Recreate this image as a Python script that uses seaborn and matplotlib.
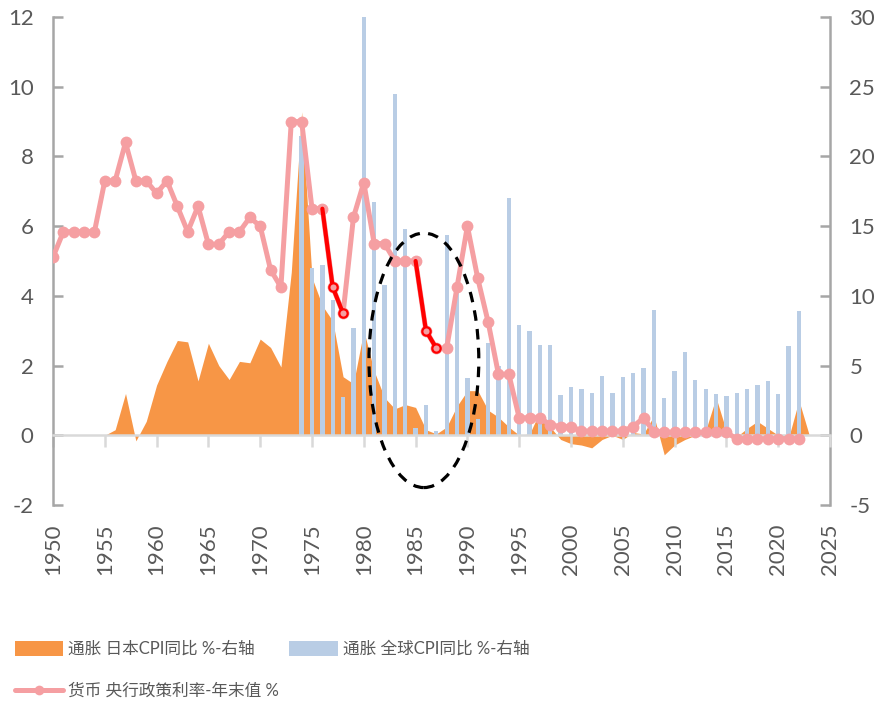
import numpy as np
import pandas as pd
import matplotlib
matplotlib.use("Agg")
import matplotlib.pyplot as plt
from matplotlib.patches import Ellipse, Patch
from matplotlib.lines import Line2D
import seaborn as sns

# ---------------- data ----------------
rate_years = list(range(1950, 2023))
policy_rate = [5.11, 5.84, 5.84, 5.84, 5.84, 7.30, 7.30, 8.40, 7.30, 7.30,
               6.94, 7.30, 6.57, 5.84, 6.57, 5.48, 5.48, 5.84, 5.84, 6.25,
               6.00, 4.75, 4.25, 9.00, 9.00, 6.50, 6.50, 4.25, 3.50, 6.25,
               7.25, 5.50, 5.50, 5.00, 5.00, 5.00, 3.00, 2.50, 2.50, 4.25,
               6.00, 4.50, 3.25, 1.75, 1.75, 0.50, 0.50, 0.50, 0.30, 0.25,
               0.25, 0.12, 0.12, 0.12, 0.12, 0.12, 0.25, 0.50, 0.10, 0.10,
               0.08, 0.08, 0.08, 0.08, 0.08, 0.08, -0.10, -0.10, -0.10, -0.10,
               -0.10, -0.10, -0.10]

jp_years = list(range(1955, 2024))
jp_cpi = [0.0, 0.4, 3.0, -0.4, 1.0, 3.6, 5.3, 6.8, 6.7, 3.9,
          6.6, 5.0, 4.0, 5.3, 5.2, 6.9, 6.3, 4.9, 11.7, 23.2,
          11.3, 9.3, 8.2, 4.2, 3.7, 7.5, 4.6, 2.7, 1.9, 2.2,
          2.0, 0.4, 0.1, 0.6, 2.1, 3.2, 3.2, 1.8, 1.3, 0.6,
          0.0, 0.1, 1.7, 0.6, -0.3, -0.6, -0.7, -0.9, -0.3, 0.0,
          -0.3, 0.2, 0.1, 1.4, -1.4, -0.7, -0.3, 0.0, 0.35, 2.7,
          0.3, -0.1, 0.5, 1.0, 0.5, 0.0, -0.2, 2.5, 0.0]

world_years = list(range(1974, 2023))
world_cpi = [21.5, 12.0, 12.2, 9.7, 2.75, 7.7, 30.0, 16.7, 10.8, 24.5,
             14.8, 0.5, 2.2, 0.3, 14.4, 10.7, 4.1, 1.2, 6.6, 5.0,
             17.0, 7.9, 7.5, 6.5, 6.5, 2.9, 3.45, 3.35, 3.05, 4.25,
             3.05, 4.2, 4.45, 4.85, 8.95, 2.7, 4.6, 5.95, 4.0, 3.3,
             2.95, 2.85, 3.05, 3.35, 3.6, 3.9, 2.95, 6.4, 8.9]

highlight_spans = [(1976, 1978), (1985, 1987)]

label_jp = "通胀 日本CPI同比 %-右轴"
label_world = "通胀 全球CPI同比 %-右轴"
label_rate = "货币 央行政策利率-年末值 %"

x_ticks = list(range(1950, 2026, 5))
left_ticks = list(range(-2, 13, 2))
right_ticks = list(range(-5, 31, 5))

# ---------------- style ----------------
sns.set_theme(style="white")
plt.rcParams["font.family"] = ["Lato", "Noto Sans CJK SC", "DejaVu Sans"]
plt.rcParams["axes.unicode_minus"] = False

ORANGE = "#F79646"
BLUE = "#B9CDE5"
PINK = "#F59FA2"
RED = "#FF0000"
GRAY_AX = "#A6A6A6"
GRAY_ZERO = "#D9D9D9"
TXT = "#595959"

rate = pd.Series(policy_rate, index=rate_years)

fig = plt.figure(figsize=(8.86, 7.09), dpi=100)
ax = fig.add_axes([53 / 886, 1 - 505 / 709, (830 - 53) / 886, (505 - 17) / 709])
ax2 = ax.twinx()

# right-axis series
ax2.fill_between(jp_years, 0, jp_cpi, color=ORANGE, linewidth=0, zorder=1)
ax2.bar(world_years, world_cpi, width=0.42, color=BLUE, linewidth=0, zorder=2)

# left-axis series
sns.lineplot(x=rate.index, y=rate.values, ax=ax, color=PINK, linewidth=3.6,
             marker="o", markersize=8.5, markeredgewidth=0, zorder=3,
             legend=False)
for a, b in highlight_spans:
    seg = rate.loc[a:b]
    sns.lineplot(x=seg.index, y=seg.values, ax=ax, color=RED, linewidth=3.0,
                 marker="o", markevery=list(range(1, len(seg))), markersize=6,
                 markerfacecolor=PINK, markeredgecolor=RED,
                 markeredgewidth=1.6, zorder=4, legend=False)

# dashed ellipse annotation
ell = Ellipse((1985.8, 2.15), 10.6, 7.3, fill=False, edgecolor="black",
              linewidth=2.3, linestyle=(0, (3.3, 2.6)), zorder=6)
ax.add_patch(ell)

# layering: left axis on top
ax.set_zorder(ax2.get_zorder() + 1)
ax.patch.set_visible(False)

# limits
ax.set_xlim(1950, 2025)
ax.set_ylim(-2, 12)
ax2.set_ylim(-5, 30)
ax.set_xlabel("")
ax.set_ylabel("")
ax2.set_ylabel("")

# x axis line at zero with ticks, labels at bottom
ax.set_xticks(x_ticks)
ax.spines["bottom"].set_position(("data", 0))
ax.spines["bottom"].set_color(GRAY_ZERO)
ax.spines["bottom"].set_linewidth(1.8)
ax.tick_params(axis="x", direction="out", length=8.5, width=1.8,
               color=GRAY_ZERO, labelbottom=False, bottom=True)
sec = ax.secondary_xaxis("bottom")
sec.set_xticks(x_ticks)
sec.set_xticklabels([str(t) for t in x_ticks])
sec.tick_params(axis="x", length=0, pad=13, labelrotation=90,
                labelsize=16, labelcolor=TXT)
sec.spines["bottom"].set_visible(False)

# left axis
ax.set_yticks(left_ticks)
ax.set_yticklabels([str(t) for t in left_ticks])
ax.spines["left"].set_color(GRAY_AX)
ax.spines["left"].set_linewidth(1.8)
ax.tick_params(axis="y", direction="in", length=7.5, width=1.8,
               color=GRAY_AX, pad=14, labelsize=16, labelcolor=TXT, left=True)
ax.spines["top"].set_visible(False)
ax.spines["right"].set_visible(False)

# right axis
ax2.set_yticks(right_ticks)
ax2.set_yticklabels([str(t) for t in right_ticks])
for s in ["left", "top", "bottom"]:
    ax2.spines[s].set_visible(False)
ax2.spines["right"].set_color(GRAY_AX)
ax2.spines["right"].set_linewidth(1.8)
ax2.tick_params(axis="y", direction="in", length=7.5, width=1.8,
                color=GRAY_AX, pad=14, labelsize=16, labelcolor=TXT, right=True)
ax2.tick_params(axis="x", bottom=False, labelbottom=False)
ax.grid(False)
ax2.grid(False)

# legend
handles = [
    Patch(facecolor=ORANGE, edgecolor="none", label=label_jp),
    Line2D([0], [0], color=PINK, linewidth=3.6, marker="o", markersize=7,
           markeredgewidth=0, label=label_rate),
    Patch(facecolor=BLUE, edgecolor="none", label=label_world),
]
leg = fig.legend(handles=handles, loc="upper left", ncol=2,
                 bbox_to_anchor=(0.017, 0.096), frameon=False,
                 fontsize=12, handlelength=2.9, handleheight=1.0,
                 handletextpad=0.3, columnspacing=0.6, labelspacing=1.55,
                 borderpad=0, borderaxespad=0)
for t in leg.get_texts():
    t.set_color(TXT)

fig.savefig("out.png", dpi=100)
